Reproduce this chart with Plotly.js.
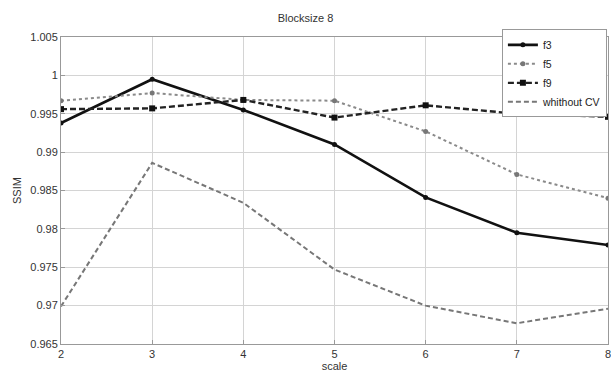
<!DOCTYPE html>
<html><head><meta charset="utf-8">
<script src="https://cdn.plot.ly/plotly-3.0.1.min.js"></script>
<style>html,body{margin:0;padding:0;background:#fff}</style>
</head><body>
<div id="chart" style="width:611px;height:374px"></div>
<script>
const scale = [2, 3, 4, 5, 6, 7, 8];
const f3 = [0.9938, 0.9995, 0.9955, 0.9910, 0.9841, 0.9795, 0.9779];
const f5 = [0.9967, 0.9977, 0.9968, 0.9967, 0.9927, 0.9871, 0.9840];
const f9 = [0.9956, 0.9957, 0.9968, 0.9945, 0.9961, 0.9950, 0.9946];
const withoutCV = [0.9699, 0.9886, 0.9834, 0.9747, 0.9700, 0.9677, 0.9696];
const yTicks = [0.965, 0.97, 0.975, 0.98, 0.985, 0.99, 0.995, 1, 1.005];
const yTickText = ["0.965", "0.97", "0.975", "0.98", "0.985", "0.99", "0.995", "1", "1.005"];
const names = ["f3", "f5", "f9", "whithout CV"];

const traces = [
  {x: scale, y: f3, name: names[0], mode: 'lines+markers',
   line: {color: '#111', width: 2.6, dash: 'solid'}, marker: {symbol: 'circle', size: 5, color: '#111'}},
  {x: scale, y: f5, name: names[1], mode: 'lines+markers',
   line: {color: '#8a8a8a', width: 2, dash: 'dot'}, marker: {symbol: 'circle', size: 5, color: '#777'}},
  {x: scale, y: f9, name: names[2], mode: 'lines+markers',
   line: {color: '#222', width: 2.4, dash: '6px,3px'}, marker: {symbol: 'square', size: 6, color: '#111'}},
  {x: scale, y: withoutCV, name: names[3], mode: 'lines',
   line: {color: '#777', width: 2, dash: '5px,3px'}}
];

const layout = {
  width: 611, height: 374,
  margin: {l: 61, r: 3, t: 37, b: 30},
  paper_bgcolor: '#fff', plot_bgcolor: '#fff',
  font: {family: 'Liberation Sans, Arial, sans-serif', size: 11, color: '#333'},
  title: {text: 'Blocksize 8', x: 0.5, xanchor: 'center', y: 0.952, yanchor: 'middle', font: {size: 11, color: '#333'}},
  xaxis: {range: [2, 8], tickvals: scale, ticktext: scale.map(String), ticklabeloverflow: 'allow',
    showgrid: true, gridcolor: '#d4d4d4', gridwidth: 1, zeroline: false,
    showline: true, linecolor: '#999', mirror: true, ticks: 'inside', ticklen: 4, tickcolor: '#999',
    title: {text: 'scale', standoff: 2, font: {size: 11, color: '#333'}}, tickfont: {size: 11, color: '#333'}},
  yaxis: {range: [0.965, 1.005], tickvals: yTicks, ticktext: yTickText,
    showgrid: true, gridcolor: '#d4d4d4', gridwidth: 1, zeroline: false,
    showline: true, linecolor: '#999', mirror: true, ticks: 'inside', ticklen: 4, tickcolor: '#999',
    title: {text: 'SSIM', standoff: 6, font: {size: 11, color: '#333'}}, tickfont: {size: 11, color: '#333'}},
  showlegend: true,
  legend: {x: 0.998, xanchor: 'right', y: 1.025, yanchor: 'top', bgcolor: '#fff', bordercolor: '#999', borderwidth: 1,
    font: {size: 10.5, color: '#222'}, tracegroupgap: 0, itemwidth: 30},
};
Plotly.newPlot('chart', traces, layout, {displayModeBar: false, staticPlot: true});
</script>
</body></html>
